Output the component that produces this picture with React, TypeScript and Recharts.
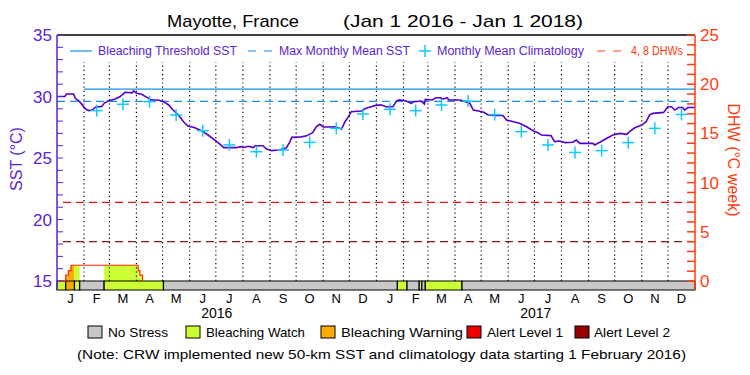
import React from "react";
import {
  ComposedChart,
  Line,
  Scatter,
  XAxis,
  YAxis,
  ReferenceLine,
  ReferenceArea,
} from "recharts";

// daily SST (day 0 = Jan 1 2016)
const sstDays = [
  0, 9, 11, 19, 21, 26, 32, 36, 40, 45, 51, 54, 59, 66, 72, 78, 86, 88, 91, 97,
  103, 108, 116, 122, 128, 133, 139, 145, 150, 158, 166, 173, 181, 187, 191,
  206, 210, 214, 219, 225, 227, 236, 240, 246, 254, 259, 263, 267, 269, 280,
  286, 293, 297, 301, 305, 311, 318, 326, 330, 334, 337, 349, 354, 360, 366,
  372, 377, 385, 389, 392, 400, 406, 409, 417, 421, 422, 430, 434, 439, 443,
  447, 449, 462, 468, 473, 477, 483, 489, 494, 502, 511, 515, 523, 530, 538,
  546, 551, 555, 566, 570, 576, 582, 591, 595, 599, 614, 616, 622, 630, 637,
  645, 653, 656, 662, 670, 675, 679, 683, 695, 700, 704, 708, 712, 717, 719,
  723, 731,
];
const sstValues = [
  30.0, 30.0, 30.2, 30.2, 29.85, 29.58, 29.04, 28.85, 28.9, 29.17, 29.17, 29.45,
  29.66, 29.77, 29.98, 30.34, 30.3, 30.45, 30.26, 30.18, 29.93, 29.72, 29.72,
  29.58, 29.31, 28.9, 28.5, 27.95, 27.6, 27.46, 27.2, 26.87, 26.46, 26.11, 25.84,
  25.84, 25.92, 25.85, 25.95, 25.85, 26.0, 26.0, 25.73, 25.6, 25.65, 25.73, 25.84,
  26.33, 26.68, 26.72, 26.8, 27.06, 27.54, 27.74, 27.52, 27.52, 27.54, 27.36,
  27.95, 28.36, 28.76, 28.82, 29.04, 29.17, 29.3, 29.3, 29.17, 29.17, 29.63,
  29.72, 29.63, 29.45, 29.58, 29.63, 29.39, 29.77, 29.72, 29.9, 29.9, 29.8, 29.9,
  29.72, 29.72, 29.58, 29.45, 28.9, 28.82, 28.72, 28.5, 28.45, 28.45, 28.09,
  27.95, 27.82, 27.54, 27.2, 27.06, 26.87, 26.82, 26.33, 26.38, 26.25, 26.28,
  26.46, 26.19, 26.19, 26.06, 26.28, 26.6, 26.87, 27.0, 26.92, 27.14, 27.46,
  27.68, 27.95, 28.5, 28.63, 28.71, 29.17, 29.17, 28.9, 29.1, 29.1, 28.9, 29.1,
  29.1,
];

const monthStarts = [
  0, 31, 60, 91, 121, 152, 182, 213, 244, 274, 305, 335, 366, 397, 425, 456,
  486, 517, 547, 578, 609, 639, 670, 700, 731,
];
const monthLabels = ["J", "F", "M", "A", "M", "J", "J", "A", "S", "O", "N", "D"];
const yearStarts = [0, 366, 731];
const yearLabels = ["2016", "2017"];

const climatology2016 = [null, 28.85, 29.37, 29.58, 28.5, 27.22, 26.06, 25.51, 25.65, 26.27, 27.41, 28.58];
const climatology2017 = [28.96, 28.85, 29.31, 29.63, 28.53, 27.14, 26.06, 25.45, 25.6, 26.25, 27.41, 28.54];

const bleachingThreshold = 30.6;
const thresholdFrom = 31;
const maxMonthlyMean = 29.6;

const dhwDays = [0, 10, 13, 16, 93, 95, 98];
const dhwValues = [0, 0.6, 1.05, 1.6, 1.05, 0.6, 0];

const stressStart = [0, 10, 20, 26, 54, 122, 390, 401, 415, 418, 422, 464];
const stressEnd = [10, 20, 26, 54, 122, 390, 401, 415, 418, 422, 464, 731];
const stressLevel = [
  "watch", "warning", "watch", "none", "watch", "none",
  "watch", "none", "watch", "none", "watch", "none",
];

const stressColors: Record<string, string> = {
  none: "#c8c8c8",
  watch: "#ccff33",
  warning: "#ffaa00",
  alert1: "#ee0000",
  alert2: "#990000",
};

const FONT = "'Liberation Sans', Arial, sans-serif";
const PURPLE = "#5b22d6";
const SST_COLOR = "#5500cc";
const BLUE = "#1090f0";
const CYAN = "#10c8ff";
const RED_AXIS = "#ff3c10";

// left axis 15..35 and right axis 0..25 share the plot; the stress bar sits below 15
const SST_MIN = 15 - (9 * 20) / 246;
const DHW_MIN = -(9 * 25) / 246;

const sstData = sstDays.map((day, i) => ({ day, sst: sstValues[i] }));
const monthMids = monthStarts.slice(0, -1).map((s, i) => (s + monthStarts[i + 1]) / 2);
const climData = [...climatology2016, ...climatology2017]
  .map((v, i) => ({ day: monthMids[i], clim: v }))
  .filter((d) => d.clim !== null);
const dhwData = dhwDays.map((day, i) => ({ day, dhw: dhwValues[i] }));
const yearMids = yearStarts.slice(0, -1).map((s, i) => (s + yearStarts[i + 1]) / 2);

const dhwFill: { x1: number; x2: number; v: number; color: string }[] = [];
for (let i = 0; i < dhwDays.length - 1; i++) {
  const a = dhwDays[i];
  const b = dhwDays[i + 1];
  const v = dhwValues[i];
  if (v <= 0) continue;
  stressStart.forEach((s, j) => {
    const lo = Math.max(a, s);
    const hi = Math.min(b, stressEnd[j]);
    if (hi > lo && stressLevel[j] !== "none") {
      dhwFill.push({ x1: lo, x2: hi, v, color: stressColors[stressLevel[j]] });
    }
  });
}

const SstTick = ({ x, y, payload }: any) => {
  const major = payload.value % 5 === 0;
  return (
    <g>
      <line x1={x} x2={x + 6} y1={y} y2={y} stroke={PURPLE} />
      {major && (
        <text x={x - 5} y={y + 6} textAnchor="end" fill={PURPLE} fontSize={17} fontFamily={FONT}>
          {payload.value}
        </text>
      )}
    </g>
  );
};

const DhwTick = ({ x, y, payload }: any) => {
  const major = payload.value % 5 === 0;
  return (
    <g>
      <line x1={x - 8} x2={x} y1={y} y2={y} stroke={RED_AXIS} strokeWidth={1.5} />
      {major && (
        <text x={x + 5} y={y + 6} textAnchor="start" fill={RED_AXIS} fontSize={17} fontFamily={FONT}>
          {payload.value}
        </text>
      )}
    </g>
  );
};

const MonthTick = ({ x, y, index }: any) => (
  <text x={x} y={y + 13} textAnchor="middle" fill="#000" fontSize={13} fontFamily={FONT}>
    {monthLabels[index % 12]}
  </text>
);

const YearTick = ({ x, y, index }: any) => (
  <text x={x} y={y + 12} textAnchor="middle" fill="#000" fontSize={14} fontFamily={FONT}>
    {yearLabels[index]}
  </text>
);

const Cross = ({ cx, cy }: any) => (
  <g stroke={CYAN} strokeWidth={1.5}>
    <line x1={cx - 6} x2={cx + 6} y1={cy} y2={cy} />
    <line x1={cx} x2={cx} y1={cy - 6} y2={cy + 6} />
  </g>
);

const legendItems = [
  { label: "No Stress", color: stressColors.none, box: 88, text: 108, len: 60 },
  { label: "Bleaching Watch", color: stressColors.watch, box: 186, text: 206, len: 99 },
  { label: "Bleaching Warning", color: stressColors.warning, box: 321, text: 341, len: 122 },
  { label: "Alert Level 1", color: stressColors.alert1, box: 467, text: 487, len: 76 },
  { label: "Alert Level 2", color: stressColors.alert2, box: 575, text: 594, len: 76 },
];

export default function App() {
  return (
    <div style={{ position: "absolute", left: 0, top: 0, width: 750, height: 375, background: "#fff" }}>
      <ComposedChart width={750} height={375} margin={{ top: 35, right: 5, bottom: 47, left: 7 }}>
        <XAxis
          xAxisId="m"
          dataKey="day"
          type="number"
          domain={[0, 731]}
          allowDataOverflow
          ticks={monthMids}
          interval={0}
          tick={MonthTick}
          tickLine={false}
          tickSize={0}
          tickMargin={0}
          axisLine={false}
          height={16}
        />
        <XAxis
          xAxisId="yr"
          dataKey="day"
          type="number"
          domain={[0, 731]}
          allowDataOverflow
          ticks={yearMids}
          interval={0}
          tick={YearTick}
          tickLine={false}
          tickSize={0}
          tickMargin={0}
          axisLine={false}
          height={22}
        />
        <YAxis
          yAxisId="sst"
          type="number"
          domain={[SST_MIN, 35]}
          allowDataOverflow
          ticks={[15, 16, 17, 18, 19, 20, 21, 22, 23, 24, 25, 26, 27, 28, 29, 30, 31, 32, 33, 34, 35]}
          interval={0}
          tick={SstTick}
          tickLine={false}
          tickSize={0}
          tickMargin={0}
          axisLine={{ stroke: PURPLE, strokeWidth: 1.5 }}
          width={50}
        />
        <YAxis
          yAxisId="dhw"
          orientation="right"
          type="number"
          domain={[DHW_MIN, 25]}
          allowDataOverflow
          ticks={[0, 1, 2, 3, 4, 5, 6, 7, 8, 9, 10, 11, 12, 13, 14, 15, 16, 17, 18, 19, 20, 21, 22, 23, 24, 25]}
          interval={0}
          tick={DhwTick}
          tickLine={false}
          tickSize={0}
          tickMargin={0}
          axisLine={{ stroke: RED_AXIS, strokeWidth: 1.5 }}
          width={50}
        />

        {monthStarts.slice(1, -1).map((d) => (
          <ReferenceLine
            key={"m" + d}
            xAxisId="m"
            yAxisId="sst"
            stroke="#000"
            strokeWidth={1.2}
            strokeDasharray="1.2 3"
            segment={[{ x: d, y: 15 }, { x: d, y: 32.8 }]}
          />
        ))}

        <ReferenceLine xAxisId="m" yAxisId="sst" y={35} stroke="#000" strokeWidth={1.5} ifOverflow="visible" />
        <ReferenceLine
          xAxisId="m"
          yAxisId="sst"
          segment={[{ x: thresholdFrom, y: bleachingThreshold }, { x: 731, y: bleachingThreshold }]}
          stroke={BLUE}
          strokeWidth={1.2}
        />
        <ReferenceLine xAxisId="m" yAxisId="sst" y={maxMonthlyMean} stroke={BLUE} strokeDasharray="8 5" strokeWidth={1.2} />
        <ReferenceLine xAxisId="m" yAxisId="dhw" y={8} stroke="#ee1111" strokeDasharray="8 5" strokeWidth={1.2} />
        <ReferenceLine xAxisId="m" yAxisId="dhw" y={4} stroke="#8a1a1a" strokeDasharray="8 5" strokeWidth={1.2} />

        {dhwFill.map((f, i) => (
          <ReferenceArea
            key={"f" + i}
            xAxisId="m"
            yAxisId="dhw"
            x1={f.x1}
            x2={f.x2}
            y1={0}
            y2={f.v}
            fill={f.color}
            fillOpacity={1}
            stroke="none"
            ifOverflow="visible"
          />
        ))}

        {stressStart.map((s, i) => (
          <ReferenceArea
            key={"s" + i}
            xAxisId="m"
            yAxisId="sst"
            x1={s}
            x2={stressEnd[i]}
            y1={SST_MIN}
            y2={15}
            fill={stressColors[stressLevel[i]]}
            fillOpacity={1}
            stroke="#000"
            strokeWidth={1.2}
            ifOverflow="visible"
          />
        ))}

        <Line
          xAxisId="m"
          yAxisId="dhw"
          data={dhwData}
          dataKey="dhw"
          type="stepAfter"
          stroke="#ff2a00"
          strokeWidth={1.2}
          dot={false}
          isAnimationActive={false}
        />
        <Line
          xAxisId="m"
          yAxisId="sst"
          data={sstData}
          dataKey="sst"
          type="linear"
          stroke={SST_COLOR}
          strokeWidth={1.6}
          dot={false}
          isAnimationActive={false}
        />
        <Scatter
          xAxisId="m"
          yAxisId="sst"
          data={climData}
          dataKey="clim"
          shape={Cross}
          isAnimationActive={false}
        />
      </ComposedChart>

      <svg
        width={750}
        height={375}
        style={{ position: "absolute", left: 0, top: 0, pointerEvents: "none" }}
        fontFamily={FONT}
      >
        <text x={167} y={27} fontSize={17} fill="#000" textLength={132} lengthAdjust="spacingAndGlyphs">
          Mayotte, France
        </text>
        <text x={343} y={27} fontSize={17} fill="#000" textLength={240} lengthAdjust="spacingAndGlyphs">
          (Jan 1 2016 - Jan 1 2018)
        </text>

        <line x1={70} x2={92} y1={51} y2={51} stroke={BLUE} strokeWidth={1.2} />
        <text x={98} y={55} fontSize={12.5} fill={PURPLE} textLength={139} lengthAdjust="spacingAndGlyphs">
          Bleaching Threshold SST
        </text>
        <line x1={248} x2={272} y1={51} y2={51} stroke={BLUE} strokeWidth={1.2} strokeDasharray="8 8" />
        <text x={279} y={55} fontSize={12.5} fill={PURPLE} textLength={131} lengthAdjust="spacingAndGlyphs">
          Max Monthly Mean SST
        </text>
        <Cross cx={425} cy={51} />
        <text x={437} y={55} fontSize={12.5} fill={PURPLE} textLength={147} lengthAdjust="spacingAndGlyphs">
          Monthly Mean Climatology
        </text>
        <line x1={597} x2={625} y1={51} y2={51} stroke={RED_AXIS} strokeWidth={1.2} strokeDasharray="8 8" />
        <text x={631} y={55} fontSize={13} fill={RED_AXIS} textLength={52} lengthAdjust="spacingAndGlyphs">
          4, 8 DHWs
        </text>

        <text
          transform="translate(22,159) rotate(-90)"
          textAnchor="middle"
          fontSize={16}
          fill={PURPLE}
        >
          SST (°C)
        </text>
        <text
          transform="translate(728,160) rotate(90)"
          textAnchor="middle"
          fontSize={16}
          fill={RED_AXIS}
        >
          DHW (°C week)
        </text>

        {legendItems.map((it) => (
          <g key={it.label}>
            <rect x={it.box} y={326} width={14} height={12} fill={it.color} stroke="#000" />
            <text x={it.text} y={337} fontSize={13} fill="#000" textLength={it.len} lengthAdjust="spacingAndGlyphs">
              {it.label}
            </text>
          </g>
        ))}
        <text x={77} y={359} fontSize={13.5} fill="#000" textLength={609} lengthAdjust="spacingAndGlyphs">
          (Note: CRW implemented new 50-km SST and climatology data starting 1 February 2016)
        </text>
      </svg>
    </div>
  );
}
